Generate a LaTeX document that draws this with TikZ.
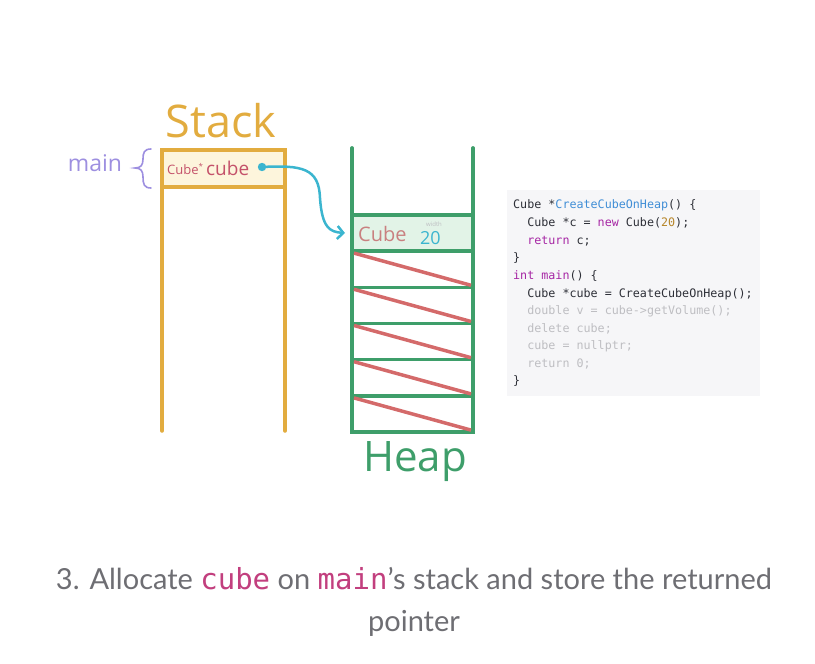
\documentclass[tikz,border=0pt]{standalone}
\usepackage{fontspec}
\setmainfont{Lato}
\setmonofont{DejaVu Sans Mono}
\newfontfamily\handfont{Open Sans}
\usetikzlibrary{positioning,arrows.meta}
\definecolor{stackorange}{RGB}{226,172,63}
\definecolor{stackfill}{RGB}{253,245,220}
\definecolor{heapgreen}{RGB}{62,158,106}
\definecolor{heapfill}{RGB}{226,243,231}
\definecolor{slashred}{RGB}{212,106,106}
\definecolor{ptrteal}{RGB}{59,181,207}
\definecolor{mainpurple}{RGB}{157,143,224}
\definecolor{varpink}{RGB}{196,82,106}
\definecolor{objpink}{RGB}{201,128,128}
\definecolor{codebg}{RGB}{246,246,248}
\definecolor{codedark}{RGB}{45,47,55}
\definecolor{codegray}{RGB}{190,190,194}
\definecolor{fnblue}{RGB}{64,142,214}
\definecolor{kwpink}{RGB}{166,38,164}
\definecolor{numorange}{RGB}{183,134,42}
\definecolor{captiongray}{RGB}{110,110,115}
\definecolor{captionpink}{RGB}{194,63,126}

\begin{document}
\begin{tikzpicture}[x=1pt,y=-1pt,
    stackline/.style={draw=stackorange, line width=3.5pt},
    heapcell/.style={draw=heapgreen, line width=3.5pt, minimum width=121pt,
        minimum height=36.2pt, inner sep=0pt, outer sep=0pt},
    slash/.style={draw=slashred, line width=3.5pt},
    hand/.style={font=\handfont\fontsize{#1}{#1}\selectfont},
    codeline/.style={font=\ttfamily\fontsize{11.7}{11.7}\selectfont, text=codedark,
        anchor=base west, inner sep=0pt}]
    \useasboundingbox (0,0) rectangle (815,664);

    % Stack
    \node[stackline, fill=stackfill, minimum width=123pt, minimum height=37pt,
        inner sep=0pt, outer sep=0pt] (frame) at (223.5,168.5) {};
    \draw[stackline, line cap=round] (frame.south west) -- ++(0,244);
    \draw[stackline, line cap=round] (frame.south east) -- ++(0,244);
    \node[hand=45, text=stackorange] (stacktitle) at (221,121) {Stack};
    \node[hand=23, text=mainpurple] (mainlbl) at (95,163) {main};
    % brace
    \draw[mainpurple, line width=1.6pt, line cap=round]
        (151,149) .. controls (144,149) and (143,153) .. (143,159)
        .. controls (143,165) and (141,168) .. (135,168)
        .. controls (141,168) and (143,171) .. (143,177)
        .. controls (143,184) and (144,188) .. (151,188);
    \node[hand=13, text=varpink, anchor=west, inner sep=0pt] (ptrtype) at (167,169)
        {Cube\raisebox{5pt}{\fontsize{8}{8}\selectfont*}};
    \node[hand=19, text=varpink, anchor=west, inner sep=0pt] (ptrname) at (206,168) {cube};
    \fill[ptrteal] (262,167) circle (4.2pt) coordinate (ptr);

    % Heap
    \node[heapcell, fill=heapfill] (h0) at (412.5,233) {};
    \foreach \i in {1,...,5}
        \node[heapcell] (h\i) at (412.5,233+36.2*\i) {};
    \draw[draw=heapgreen, line width=3.5pt, line cap=round] (h0.north west) -- ++(0,-67);
    \draw[draw=heapgreen, line width=3.5pt, line cap=round] (h0.north east) -- ++(0,-67);
    \foreach \i in {1,...,5}
        \draw[slash] ([xshift=2pt,yshift=-2pt]h\i.north west) -- ([xshift=-2pt,yshift=2pt]h\i.south east);
    \node[hand=20, text=objpink, anchor=west, inner sep=0pt] (objtype) at (358,234) {Cube};
    \node[hand=6, text=codegray, inner sep=0pt] (fieldname) at (434,224) {width};
    \node[hand=18, text=ptrteal, anchor=west, inner sep=0pt] (fieldval) at (420,238) {20};
    \node[hand=42, text=heapgreen] (heaptitle) at (415,462) {Heap};

    % Pointer
    \draw[ptrteal, line width=2.5pt, line cap=round,
        -{Straight Barb[length=6pt,width=13pt,line width=2.5pt]}]
        (ptr) .. controls (302,165) and (319,168) .. (320,198)
        .. controls (322,228) and (330,232) .. ([xshift=-7pt]h0.west);

    % Code
    \fill[codebg] (507,190) rectangle (760,396);
    \node[codeline] (c1) at (513,208) {Cube *\textcolor{fnblue}{CreateCubeOnHeap}() \{};
    \node[codeline] (c2) at (513,226) {\ \ Cube *c = \textcolor{kwpink}{new} Cube(\textcolor{numorange}{20});};
    \node[codeline] (c3) at (513,244) {\ \ \textcolor{kwpink}{return} c;};
    \node[codeline] (c4) at (513,261) {\}};
    \node[codeline] (c5) at (513,279) {\textcolor{kwpink}{int} \textcolor{kwpink}{main}() \{};
    \node[codeline] (c6) at (513,297) {\ \ Cube *cube = CreateCubeOnHeap();};
    \node[codeline, text=codegray] (c7) at (513,314) {\ \ double v = cube->getVolume();};
    \node[codeline, text=codegray] (c8) at (513,332) {\ \ delete cube;};
    \node[codeline, text=codegray] (c9) at (513,349) {\ \ cube = nullptr;};
    \node[codeline, text=codegray] (c10) at (513,367) {\ \ return 0;};
    \node[codeline] (c11) at (513,384) {\}};

    % Caption
    \node[align=center, text=captiongray, font=\fontsize{29}{42}\selectfont] (caption) at (414,602)
        {3. Allocate \texttt{\textcolor{captionpink}{cube}} on \texttt{\textcolor{captionpink}{main}}'s stack and store the returned\\pointer};
\end{tikzpicture}
\end{document}
